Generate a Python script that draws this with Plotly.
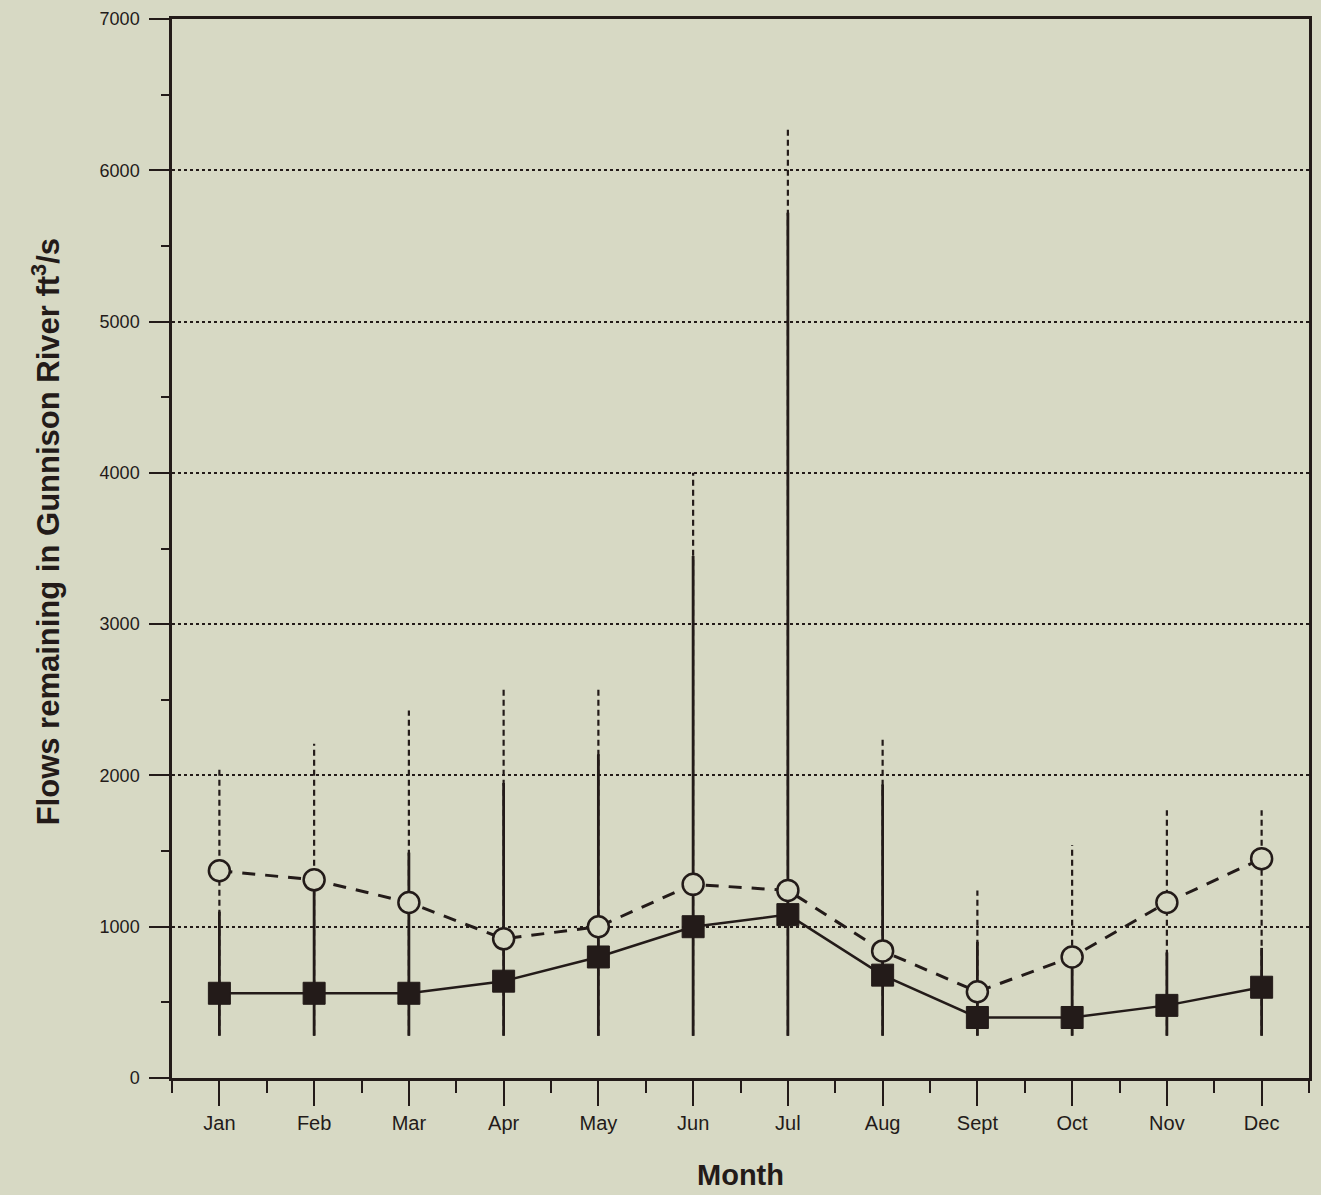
import plotly.graph_objects as go

months = ["Jan", "Feb", "Mar", "Apr", "May", "Jun", "Jul", "Aug", "Sept", "Oct", "Nov", "Dec"]

# solid squares series (value, range low/high)
square_vals = [560, 560, 560, 640, 800, 1000, 1080, 680, 400, 400, 480, 600]
square_lo = [280, 280, 280, 280, 280, 280, 280, 280, 280, 280, 280, 280]
square_hi = [1100, 1290, 1490, 1950, 2140, 3450, 5720, 1940, 900, 780, 830, 860]

# open circles series (value, range low/high)
circle_vals = [1370, 1310, 1160, 920, 1000, 1280, 1240, 840, 570, 800, 1160, 1450]
circle_lo = [280, 280, 280, 280, 280, 280, 280, 280, 280, 280, 280, 280]
circle_hi = [2060, 2210, 2430, 2580, 2580, 4000, 6290, 2260, 1240, 1540, 1770, 1770]

y_ticks = [0, 1000, 2000, 3000, 4000, 5000, 6000, 7000]

INK = "#231b19"
BG = "#d7d9c4"
FONT = "Liberation Sans, Arial, Helvetica, sans-serif"

x_idx = list(range(len(months)))


def segments(lo, hi):
    xs, ys = [], []
    for i, (a, b) in enumerate(zip(lo, hi)):
        xs += [i, i, None]
        ys += [a, b, None]
    return xs, ys


fig = go.Figure()

cx, cy = segments(circle_lo, circle_hi)
fig.add_trace(go.Scatter(x=cx, y=cy, mode="lines",
                         line=dict(color=INK, width=2.2, dash="6px,4px"),
                         hoverinfo="skip", showlegend=False))
sx, sy = segments(square_lo, square_hi)
fig.add_trace(go.Scatter(x=sx, y=sy, mode="lines",
                         line=dict(color=INK, width=2.8),
                         hoverinfo="skip", showlegend=False))

fig.add_trace(go.Scatter(x=x_idx, y=circle_vals, mode="lines",
                         line=dict(color=INK, width=3, dash="13px,10px"),
                         showlegend=False))
fig.add_trace(go.Scatter(x=x_idx, y=square_vals, mode="lines",
                         line=dict(color=INK, width=2.5),
                         showlegend=False))
fig.add_trace(go.Scatter(x=x_idx, y=circle_vals, mode="markers",
                         marker=dict(symbol="circle", size=21, color=BG,
                                     line=dict(color=INK, width=2.5)),
                         showlegend=False))
fig.add_trace(go.Scatter(x=x_idx, y=square_vals, mode="markers",
                         marker=dict(symbol="square", size=22, color=INK,
                                     line=dict(color=INK, width=1)),
                         showlegend=False))

fig.update_layout(
    width=1321, height=1195,
    margin=dict(l=172, r=9, t=19, b=112),
    paper_bgcolor=BG, plot_bgcolor=BG,
    font=dict(family=FONT, color=INK, size=18),
)

fig.update_xaxes(
    range=[-0.5, 11.5],
    tickmode="array", tickvals=x_idx, ticktext=months,
    ticks="outside", ticklen=25, tickwidth=2, tickcolor=INK,
    minor=dict(tickmode="array", tickvals=[i - 0.5 for i in range(13)],
               ticks="outside", ticklen=12, tickwidth=2, tickcolor=INK,
               showgrid=False),
    showline=True, linecolor=INK, linewidth=2.5, mirror=True,
    showgrid=False, zeroline=False,
    tickfont=dict(size=20, family=FONT, color=INK),
    title=dict(text="<b>Month</b>", font=dict(size=29, family=FONT, color=INK), standoff=32),
)

fig.update_yaxes(
    range=[0, 7000],
    tickmode="array", tickvals=y_ticks, ticktext=[str(v) for v in y_ticks],
    ticks="outside", ticklen=20, tickwidth=2, tickcolor=INK,
    ticklabelstandoff=6,
    minor=dict(tickmode="linear", tick0=500, dtick=1000,
               ticks="outside", ticklen=8, tickwidth=2, tickcolor=INK,
               showgrid=False),
    showline=True, linecolor=INK, linewidth=2.5, mirror=True,
    showgrid=True, gridcolor=INK, gridwidth=2, griddash="dot",
    zeroline=False,
    tickfont=dict(size=18, family=FONT, color=INK),
)

fig.add_annotation(
    text="<b>Flows remaining in Gunnison River ft<sup>3</sup>/s</b>",
    xref="paper", yref="paper", x=-0.111, y=0.516,
    xanchor="center", yanchor="middle", textangle=-90, showarrow=False,
    font=dict(size=31, family=FONT, color=INK),
)

fig.write_html(
    "out.html",
    config={"displayModeBar": False},
    post_script=("document.body.style.margin='0';"
                 "document.body.style.overflow='hidden';"
                 "document.documentElement.style.overflow='hidden';"
                 "document.body.style.background='" + BG + "';"),
)
